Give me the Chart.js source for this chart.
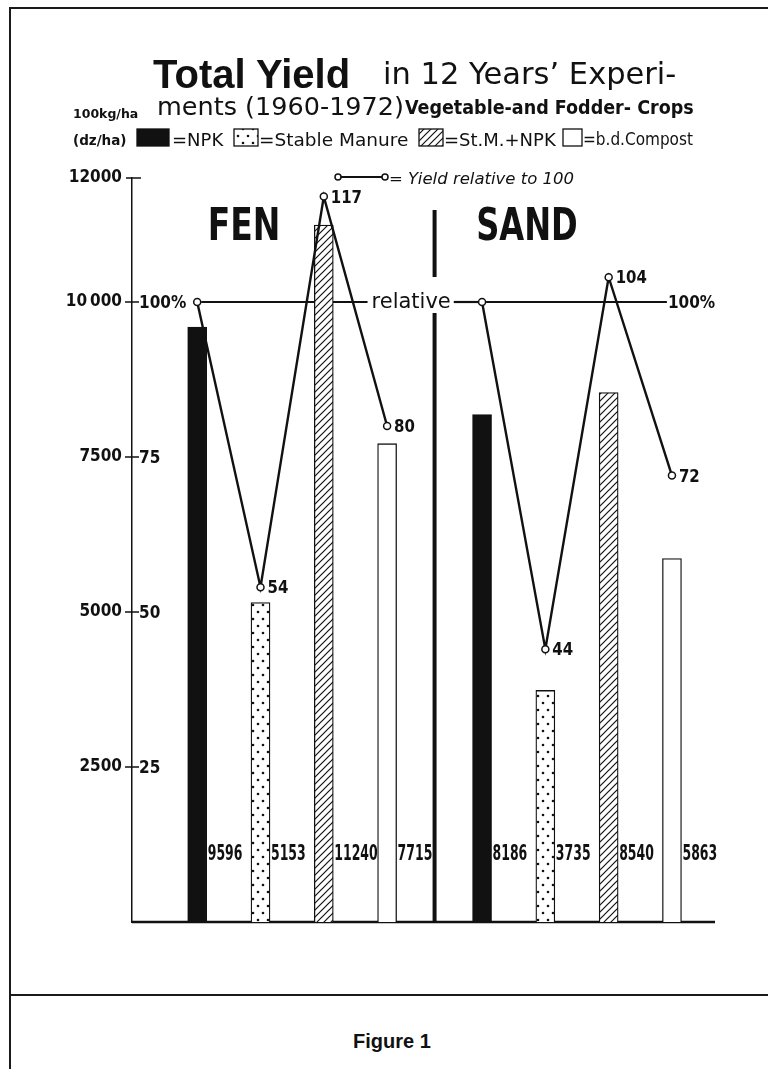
<!DOCTYPE html>
<html>
<head>
<meta charset="utf-8">
<script src="https://cdn.jsdelivr.net/npm/chart.js@4"></script>
<style>
  body { margin: 0; background: #fff; }
  #page { position: relative; width: 768px; height: 1069px; overflow: hidden; background: #fff; }
  #chart { position: absolute; left: 0; top: 0; }
  .rule { position: absolute; background: #1a1a1a; }
  .t { position: absolute; white-space: nowrap; line-height: 1; color: #111; }
</style>
</head>
<body>
<div id="page">
  <canvas id="chart" width="768" height="990"></canvas>

  <div class="rule" style="left:9px; top:7px; width:759px; height:2px;"></div>
  <div class="rule" style="left:9px; top:7px; width:2px; height:1062px;"></div>
  <div class="rule" style="left:9px; top:994px; width:759px; height:2px;"></div>

  <span class="t" style="left:153px; top:52px; font:bold 40px 'Liberation Sans';">Total Yield</span>
  <span class="t" style="left:383px; top:56px; font:30.5px 'DejaVu Sans';">in 12 Years’ Experi-</span>
  <span class="t" style="left:73px; top:106px; font:bold 12.5px 'DejaVu Sans';">100kg/ha</span>
  <span class="t" style="left:157px; top:91px; font:25.5px 'DejaVu Sans';">ments (1960-1972)</span>
  <span class="t" style="left:405px; top:96px; font:bold 19.5px 'DejaVu Sans Condensed';">Vegetable-and Fodder- Crops</span>
  <span class="t" style="left:73px; top:132px; font:bold 13.5px 'DejaVu Sans';">(dz/ha)</span>
  <span class="t" style="left:172px; top:129px; font:18px 'DejaVu Sans';">=NPK</span>
  <span class="t" style="left:259px; top:129px; font:18.5px 'DejaVu Sans';">=Stable Manure</span>
  <span class="t" style="left:444px; top:129px; font:18px 'DejaVu Sans';">=St.M.+NPK</span>
  <span class="t" style="left:583px; top:129px; font:17px 'DejaVu Sans Condensed';">=b.d.Compost</span>
  <span class="t" style="left:389px; top:169px; font:italic 16.5px 'DejaVu Sans';">= Yield relative to 100</span>
  <span class="t" style="left:353px; top:1030px; font:bold 20px 'Liberation Sans';">Figure 1</span>
</div>

<script>
// values
const soils = ['FEN', 'SAND'];
const treatments = ['NPK', 'Stable Manure', 'St.M.+NPK', 'b.d.Compost'];
const fenYield = [9596, 5153, 11240, 7715];
const sandYield = [8186, 3735, 8540, 5863];
const fenRelative = [100, 54, 117, 80];
const sandRelative = [100, 44, 104, 72];
const yieldTicks = [2500, 5000, 7500, 10000, 12000];
const yieldTickLabels = ['2500', '5000', '7500', '10\u2009000', '12000'];
const relTickLabels = ['25', '50', '75', '100%', ''];

const ink = '#111';
const canvas = document.getElementById('chart');
const ctx = canvas.getContext('2d');

// FEN bars sit on 0..3, SAND bars on 4.5..7.5
const slot = (g, i) => g * 4.5 + i;

function makePattern(w, h, paint) {
    const c = document.createElement('canvas');
    c.width = w; c.height = h;
    const g = c.getContext('2d');
    g.fillStyle = '#fff';
    g.fillRect(0, 0, w, h);
    paint(g);
    return ctx.createPattern(c, 'repeat');
}

const dots = makePattern(10, 14, g => {
    g.fillStyle = ink;
    g.beginPath(); g.arc(3, 3, 1.3, 0, Math.PI * 2); g.fill();
    g.beginPath(); g.arc(8, 10, 1.3, 0, Math.PI * 2); g.fill();
});
const hatch = makePattern(7, 7, g => {
    g.strokeStyle = ink;
    g.lineWidth = 1.2;
    g.beginPath();
    g.moveTo(-1, 8); g.lineTo(8, -1);
    g.moveTo(-1, 1); g.lineTo(1, -1);
    g.moveTo(6, 8); g.lineTo(8, 6);
    g.stroke();
});
const fills = [ink, dots, hatch, '#fff'];

function line(c, x1, y1, x2, y2, w) {
    c.lineWidth = w;
    c.beginPath(); c.moveTo(x1, y1); c.lineTo(x2, y2); c.stroke();
}

// text squeezed horizontally by sx
function text(c, str, x, y, font, sx, align) {
    c.save();
    c.font = font;
    c.textAlign = 'left';
    c.textBaseline = 'alphabetic';
    const w = c.measureText(str).width * sx;
    const x0 = align === 'center' ? x - w / 2 : align === 'right' ? x - w : x;
    c.translate(x0, y);
    c.scale(sx, 1);
    c.fillText(str, 0, 0);
    c.restore();
    return w;
}

function circle(c, x, y, r) {
    c.beginPath(); c.arc(x, y, r, 0, Math.PI * 2);
    c.fillStyle = '#fff'; c.fill();
    c.lineWidth = 1.5; c.stroke();
}

const figurePlugin = {
    id: 'figure',
    beforeDatasetsDraw(chart) {
        const { ctx: c, chartArea: a, scales: { x, y, yRel } } = chart;
        c.save();
        c.strokeStyle = ink;
        c.fillStyle = ink;

        const y0 = y.getPixelForValue(0);
        line(c, a.left, y0, a.right, y0, 2.5);

        // cross ticks and the relative scale written right of the axis
        yieldTicks.forEach((v, i) => {
            const py = y.getPixelForValue(v);
            if (v === 12000) line(c, a.left - 6, py, a.left + 9, py, 1.5);
            else line(c, a.left - 7, py, a.left + 7, py, 1.5);
            if (relTickLabels[i]) {
                c.fillStyle = ink;
                text(c, relTickLabels[i], a.left + 7, py + 6, 'bold 17px "DejaVu Sans Condensed"', 1, 'left');
            }
        });

        // divider between FEN and SAND
        const py100 = yRel.getPixelForValue(100);
        const xd = x.getPixelForValue(3.75);
        line(c, xd, a.top + 32, xd, py100 - 25, 4);
        line(c, xd, py100 + 11, xd, y0, 4);

        // 100 % reference line with its labels
        const relW = text(c, 'relative', x.getPixelForValue(3.38), py100 + 6, '21px "DejaVu Sans"', 1, 'center');
        const relL = x.getPixelForValue(3.38) - relW / 2;
        line(c, x.getPixelForValue(0) + 4, py100, relL - 4, py100, 2.2);
        line(c, relL + relW + 3, py100, x.getPixelForValue(4.5) - 4, py100, 2.2);
        const xEnd = x.getPixelForValue(7.42);
        line(c, x.getPixelForValue(4.5) + 4, py100, xEnd, py100, 2.2);
        text(c, '100%', xEnd + 1, py100 + 6, 'bold 17px "DejaVu Sans Condensed"', 1, 'left');

        // soil names
        text(c, soils[0], x.getPixelForValue(0.74), a.top + 62, 'bold 44px "DejaVu Sans"', 0.75, 'center');
        text(c, soils[1], x.getPixelForValue(5.21), a.top + 62, 'bold 44px "DejaVu Sans"', 0.73, 'center');

        // legend swatches
        const sw = [[137, 32], [234, 24], [419, 24], [563, 19]];
        sw.forEach(([lx, w], i) => {
            c.fillStyle = fills[i];
            c.fillRect(lx, 129, w, 17);
            c.lineWidth = 1.3;
            c.strokeRect(lx, 129, w, 17);
        });
        line(c, 338, 177, 385, 177, 2);
        circle(c, 338, 177, 3);
        circle(c, 385, 177, 3);
        c.restore();
    },
    afterDatasetsDraw(chart) {
        const c = chart.ctx;
        const y0 = chart.scales.y.getPixelForValue(0);
        c.save();
        c.fillStyle = ink;
        // yields written beside each bar near the bottom
        const bars = chart.getDatasetMeta(2).data;
        const yields = fenYield.concat(sandYield);
        bars.forEach((el, i) => {
            text(c, String(yields[i]), el.x + el.width / 2 + 1, y0 - 62, 'bold 21px "DejaVu Sans Condensed"', 0.66, 'left');
        });
        // relative values beside the circles
        [fenRelative, sandRelative].forEach((rel, d) => {
            chart.getDatasetMeta(d).data.forEach((pt, i) => {
                if (rel[i] === 100) return;
                text(c, String(rel[i]), pt.x + 7, pt.y + 6, 'bold 17.5px "DejaVu Sans Condensed"', 0.95, 'left');
            });
        });
        c.restore();
    }
};

const relLine = (rel, g) => ({
    type: 'line',
    label: soils[g] + ' relative',
    data: rel.map((v, i) => ({ x: slot(g, i), y: v })),
    yAxisID: 'yRel',
    borderColor: ink,
    borderWidth: 2.4,
    tension: 0,
    pointRadius: 3.5,
    pointBackgroundColor: '#fff',
    pointBorderColor: ink,
    pointBorderWidth: 1.5,
    order: 1
});

new Chart(ctx, {
    type: 'bar',
    data: {
        datasets: [
            relLine(fenRelative, 0),
            relLine(sandRelative, 1),
            {
                type: 'bar',
                label: 'Total yield',
                data: fenYield.map((v, i) => ({ x: slot(0, i), y: v }))
                    .concat(sandYield.map((v, i) => ({ x: slot(1, i), y: v }))),
                backgroundColor: fills.concat(fills),
                borderColor: ink,
                borderWidth: 1.3,
                barThickness: 19,
                grouped: false,
                yAxisID: 'y',
                order: 2
            }
        ]
    },
    options: {
        responsive: false,
        animation: false,
        devicePixelRatio: 1,
        events: [],
        layout: { padding: { top: 178, bottom: 68, left: 0, right: 53 } },
        plugins: { legend: { display: false }, tooltip: { enabled: false } },
        scales: {
            x: { type: 'linear', min: -1.03, max: 8.18, display: false, offset: false },
            y: {
                min: 0, max: 12000,
                afterBuildTicks: s => { s.ticks = yieldTicks.map(v => ({ value: v })); },
                afterFit: s => { s.width = 132; },
                grid: { display: false, drawTicks: false },
                border: { display: true, color: ink, width: 1.5 },
                ticks: {
                    padding: 10,
                    color: ink,
                    font: { family: 'DejaVu Sans Condensed', weight: 'bold', size: 17 },
                    callback: v => yieldTickLabels[yieldTicks.indexOf(v)]
                }
            },
            yRel: { min: 0, max: 120, display: false }
        }
    },
    plugins: [figurePlugin]
});
</script>
</body>
</html>
